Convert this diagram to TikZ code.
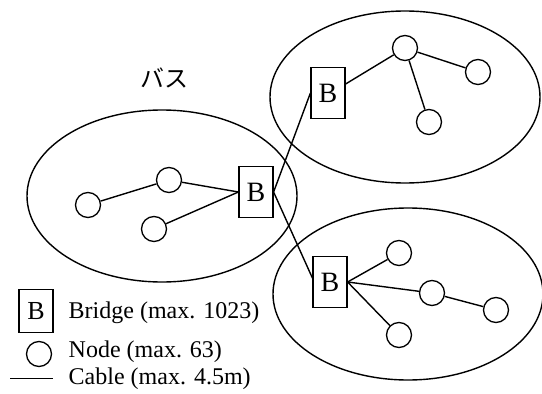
\documentclass[tikz,border=0pt]{standalone}
\usepackage{fontspec}
\setmainfont{Liberation Serif}
\newfontfamily\jpfont{Noto Sans CJK JP}
\usetikzlibrary{shapes.geometric}
\begin{document}
\begin{tikzpicture}[x=1pt,y=-1pt,
  every path/.style={line width=1.4pt},
  seg/.style={ellipse,draw,line width=1.4pt,minimum width=270pt,minimum height=172pt,inner sep=0pt},
  busnode/.style={circle,draw,minimum size=25pt,inner sep=0pt,line width=1.3pt},
  bridgebox/.style={rectangle,draw,minimum width=34pt,minimum height=51pt,inner sep=0pt,line width=1.2pt,font=\fontsize{28}{30}\selectfont},
  legtext/.style={anchor=west,inner sep=0pt,font=\fontsize{24}{26}\selectfont}]
\useasboundingbox (0,0) rectangle (542,394);
% segments
\node[seg] (E1) at (162,196) {};
\node[seg] (E2) at (405,97) {};
\node[seg] (E3) at (408,294) {};
\node[font=\jpfont\fontsize{24}{26}\selectfont] (bus) at (164,78) {バス};
% left segment
\node[bridgebox] (B1) at (256,192) {B};
\node[busnode] (a1) at (88,205) {};
\node[busnode] (a2) at (169,180) {};
\node[busnode] (a3) at (154,229) {};
% top right
\node[bridgebox] (B2) at (328,93) {B};
\node[busnode] (b1) at (405,48) {};
\node[busnode] (b2) at (478,72) {};
\node[busnode] (b3) at (429,122) {};
% bottom right
\node[bridgebox] (B3) at (330,282) {B};
\node[busnode] (c1) at (399,253) {};
\node[busnode] (c2) at (432,293) {};
\node[busnode] (c3) at (496,310) {};
\node[busnode] (c4) at (399,335) {};
% cables
\draw (a1) -- (a2);
\draw (a2) -- (B1.west);
\draw (a3) -- (B1.west);
\draw (B1.east) -- (B2.west);
\draw (B1.east) -- ([yshift=4pt]B3.west);
\draw ([yshift=9pt]B2.east) -- (b1);
\draw (b1) -- (b2);
\draw (b1) -- (b3);
\draw (B3.east) -- (c1);
\draw (B3.east) -- (c2);
\draw (B3.east) -- (c4);
\draw (c2) -- (c3);
% legend
\node[bridgebox,minimum height=43pt,font=\fontsize{26}{28}\selectfont] (LB) at (36,311) {B};
\node[legtext] (LBt) at (68,313) {Bridge (max. 1023)};
\node[busnode] (LN) at (39,354) {};
\node[legtext] (LNt) at (68,352) {Node (max. 63)};
\coordinate (LC1) at (10,378);
\coordinate (LC2) at (53,378);
\draw[line width=0.9pt] (LC1) -- (LC2);
\node[legtext] (LCt) at (68,379) {Cable (max. 4.5m)};
\end{tikzpicture}
\end{document}
